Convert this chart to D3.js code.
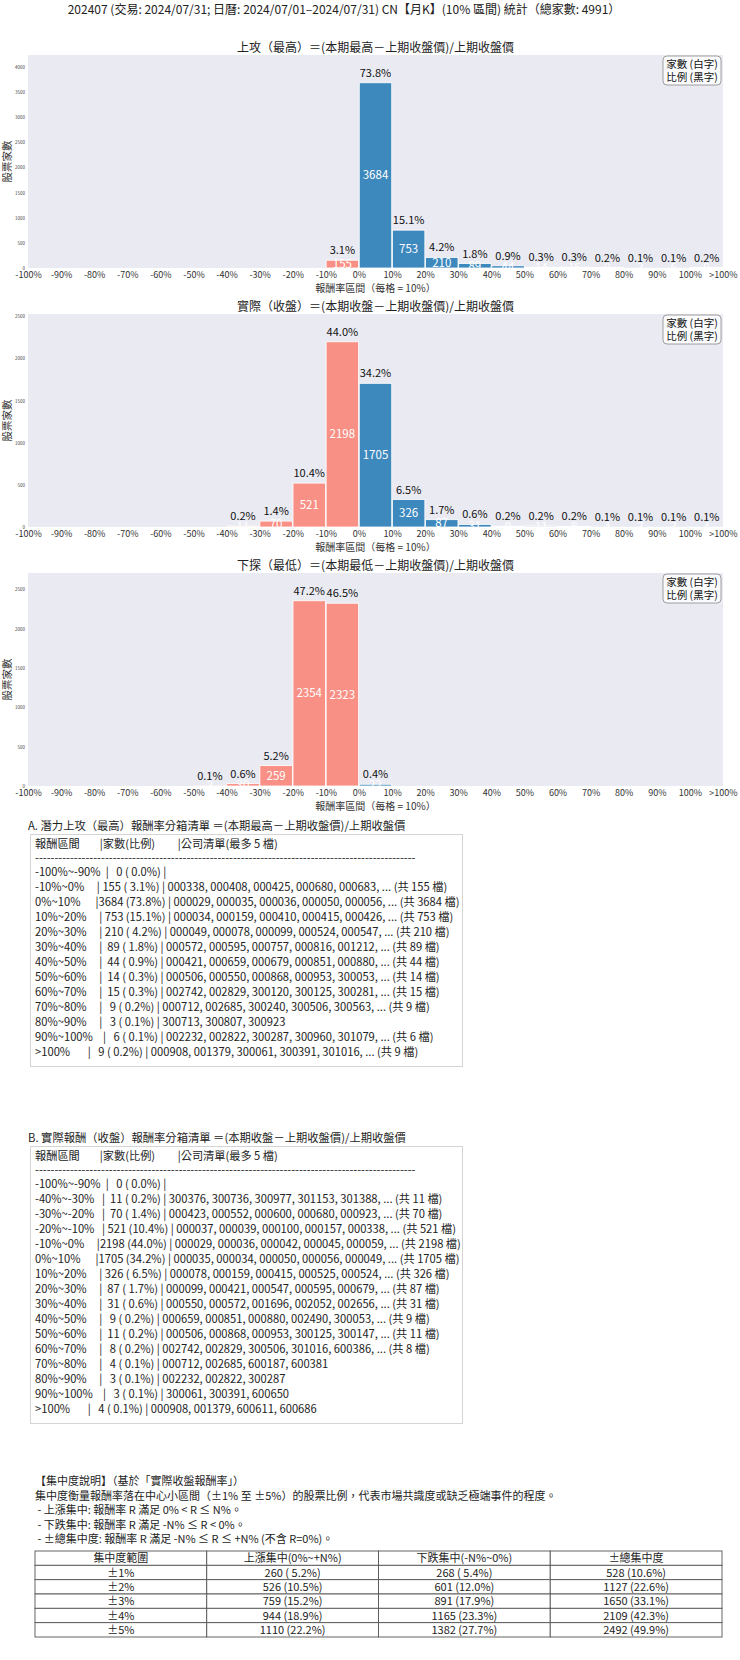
<!DOCTYPE html>
<html lang="zh-Hant">
<head>
<meta charset="UTF-8">
<title>202407 CN 月K 報酬率分箱統計</title>
<script src="https://d3js.org/d3.v7.min.js"></script>
<style>
  body { margin: 0; background: #fff; }
  svg text { font-family: "Noto Sans CJK TC", "Noto Sans", sans-serif; }
</style>
</head>
<body>
<svg id="chart" width="740" height="1660"></svg>
<script>
// ---- data ----
const total = 4991;
const tickLabels = ["-100%","-90%","-80%","-70%","-60%","-50%","-40%","-30%","-20%","-10%","0%",
  "10%","20%","30%","40%","50%","60%","70%","80%","90%","100%",">100%"];
const binLabels = ["-100%~-90%","-90%~-80%","-80%~-70%","-70%~-60%","-60%~-50%","-50%~-40%",
  "-40%~-30%","-30%~-20%","-20%~-10%","-10%~0%","0%~10%","10%~20%","20%~30%","30%~40%",
  "40%~50%","50%~60%","60%~70%","70%~80%","80%~90%","90%~100%",">100%"];

const highCounts  = [0,0,0,0,0,0,0,0,0,155,3684,753,210,89,44,14,15,9,3,6,9];
const closeCounts = [0,0,0,0,0,0,11,70,521,2198,1705,326,87,31,9,11,8,4,3,3,4];
const lowCounts   = [0,0,0,0,0,3,30,259,2354,2323,22,0,0,0,0,0,0,0,0,0,0];

// company codes, one entry per listed row (first bin + every non-empty bin)
const highCodes = [
  [],
  ["000338","000408","000425","000680","000683"],
  ["000029","000035","000036","000050","000056"],
  ["000034","000159","000410","000415","000426"],
  ["000049","000078","000099","000524","000547"],
  ["000572","000595","000757","000816","001212"],
  ["000421","000659","000679","000851","000880"],
  ["000506","000550","000868","000953","300053"],
  ["002742","002829","300120","300125","300281"],
  ["000712","002685","300240","300506","300563"],
  ["300713","300807","300923"],
  ["002232","002822","300287","300960","301079"],
  ["000908","001379","300061","300391","301016"]
];
const closeCodes = [
  [],
  ["300376","300736","300977","301153","301388"],
  ["000423","000552","000600","000680","000923"],
  ["000037","000039","000100","000157","000338"],
  ["000029","000036","000042","000045","000059"],
  ["000035","000034","000050","000056","000049"],
  ["000078","000159","000415","000525","000524"],
  ["000099","000421","000547","000595","000679"],
  ["000550","000572","001696","002052","002656"],
  ["000659","000851","000880","002490","300053"],
  ["000506","000868","000953","300125","300147"],
  ["002742","002829","300506","301016","600386"],
  ["000712","002685","600187","600381"],
  ["002232","002822","300287"],
  ["300061","300391","600650"],
  ["000908","001379","600611","600686"]
];

const concRanges = ["±1%","±2%","±3%","±4%","±5%"];
const concUp     = [260,526,759,944,1110];
const concDown   = [268,601,891,1165,1382];
const concAll    = [528,1127,1650,2109,2492];
const concHeaders = ["集中度範圍","上漲集中(0%~+N%)","下跌集中(-N%~0%)","±總集中度"];

// ---- drawing ----
const svg = d3.select("#chart");
const pct = n => (n / total * 100).toFixed(1) + "%";
const left = 28, right = 723, plotH = 213;

svg.append("text")
  .attr("x", 344).attr("y", 14)
  .attr("text-anchor", "middle")
  .attr("font-size", 12).attr("fill", "#222")
  .text("202407 (交易: 2024/07/31; 日曆: 2024/07/01–2024/07/31) CN【月K】(10% 區間) 統計（總家數: 4991）");

function drawHist(counts, title, top) {
  const g = svg.append("g");
  const xb = d3.scaleBand().domain(d3.range(counts.length)).range([left, right]).paddingInner(0.02);
  const xe = d3.scaleLinear().domain([0, counts.length]).range([left, right]);
  const ymax = d3.max(counts) * 1.15;
  const y = d3.scaleLinear().domain([0, ymax]).range([top + plotH, top]);

  g.append("rect")
    .attr("x", left).attr("y", top)
    .attr("width", right - left).attr("height", plotH)
    .attr("fill", "#eaeaf2");

  g.append("text")
    .attr("x", (left + right) / 2).attr("y", top - 3)
    .attr("text-anchor", "middle").attr("font-size", 12).attr("fill", "#222")
    .text(title);

  const bars = g.selectAll(".bar").data(counts.map((c, i) => ({c, i}))).join("g");
  bars.append("rect")
    .attr("x", d => xb(d.i))
    .attr("y", d => y(d.c))
    .attr("width", xb.bandwidth())
    .attr("height", d => y(0) - y(d.c))
    .attr("fill", d => d.i < 10 ? "#fa8072" : "#1f77b4")
    .attr("fill-opacity", 0.85)
    .attr("stroke", "#fff").attr("stroke-width", 0.8);

  bars.filter(d => d.c > 0).append("text")
    .attr("x", d => xb(d.i) + xb.bandwidth() / 2)
    .attr("y", d => y(d.c) - 6)
    .attr("text-anchor", "middle").attr("font-size", 11).attr("fill", "#111")
    .text(d => pct(d.c));

  bars.filter(d => d.c > 0).append("text")
    .attr("x", d => xb(d.i) + xb.bandwidth() / 2)
    .attr("y", d => (y(d.c) + y(0)) / 2 + 4)
    .attr("text-anchor", "middle").attr("font-size", 11.5).attr("fill", "#fff")
    .text(d => d.c);

  const xAxis = g.append("g")
    .attr("transform", `translate(0,${top + plotH})`)
    .call(d3.axisBottom(xe).tickValues(d3.range(counts.length + 1))
      .tickFormat(i => tickLabels[i]).tickSize(0).tickPadding(4));
  xAxis.select(".domain").remove();
  xAxis.selectAll("text").attr("font-size", 9).attr("fill", "#333")
    .attr("font-family", "'Noto Sans CJK TC', sans-serif");

  const yAxis = g.append("g")
    .attr("transform", `translate(${left},0)`)
    .call(d3.axisLeft(y).tickValues(d3.range(0, ymax, 500)).tickFormat(d3.format("d"))
      .tickSize(0).tickPadding(3));
  yAxis.select(".domain").remove();
  yAxis.selectAll("text").attr("font-size", 4.5).attr("fill", "#444")
    .attr("font-family", "'Noto Sans CJK TC', sans-serif");

  g.append("text")
    .attr("transform", `translate(11,${top + plotH / 2}) rotate(-90)`)
    .attr("text-anchor", "middle").attr("font-size", 10.5).attr("fill", "#333")
    .text("股票家數");

  g.append("text")
    .attr("x", (left + right) / 2).attr("y", top + plotH + 24)
    .attr("text-anchor", "middle").attr("font-size", 10).attr("fill", "#333")
    .text("報酬率區間（每格 = 10%）");

  const lg = g.append("g").attr("transform", `translate(${right - 60},${top + 1})`);
  lg.append("rect").attr("width", 58).attr("height", 29).attr("rx", 4)
    .attr("fill", "#fff").attr("fill-opacity", 0.8)
    .attr("stroke", "#888").attr("stroke-width", 0.8);
  lg.append("text").attr("x", 29).attr("y", 12).attr("text-anchor", "middle")
    .attr("font-size", 10.5).attr("fill", "#111").text("家數 (白字)");
  lg.append("text").attr("x", 29).attr("y", 25).attr("text-anchor", "middle")
    .attr("font-size", 10.5).attr("fill", "#111").text("比例 (黑字)");
}

drawHist(highCounts, "上攻（最高）＝(本期最高－上期收盤價)/上期收盤價", 55);
drawHist(closeCounts, "實際（收盤）＝(本期收盤－上期收盤價)/上期收盤價", 314);
drawHist(lowCounts, "下探（最低）＝(本期最低－上期收盤價)/上期收盤價", 573);

function rowText(i, n, codes) {
  let s = binLabels[i].padEnd(12) + "|" + String(n).padStart(4) + " (" + pct(n).padStart(5) + ") | ";
  s += codes.join(", ");
  if (n > codes.length) s += ", ... (共 " + n + " 檔)";
  return s;
}

function drawList(label, L, counts, codes) {
  const g = svg.append("g");
  const rows = d3.range(counts.length).filter(i => i === 0 || counts[i] > 0);
  const bottom = L + 50 + 15 * (rows.length - 1) + 10;
  g.append("text").attr("x", 28).attr("y", L + 4)
    .attr("font-size", 11.3).attr("fill", "#222").text(label);
  g.append("rect").attr("x", 30.5).attr("y", L + 8.5)
    .attr("width", 432).attr("height", bottom - L - 8)
    .attr("fill", "#fff").attr("stroke", "#d4d4d4").attr("stroke-width", 1);
  const lines = ["報酬區間".padEnd(12) + "|" + "家數(比例)".padEnd(15) + "|公司清單(最多 5 檔)",
                 "-".repeat(98)];
  rows.forEach((b, k) => lines.push(rowText(b, counts[b], codes[k])));
  g.selectAll(".ln").data(lines).join("text")
    .attr("x", 35)
    .attr("y", (d, k) => k === 0 ? L + 22 : k === 1 ? L + 36 : L + 50 + 15 * (k - 2))
    .attr("font-size", 11.2).attr("fill", "#222")
    .style("white-space", "pre")
    .text(d => d);
}

drawList("A. 潛力上攻（最高）報酬率分箱清單 ＝(本期最高－上期收盤價)/上期收盤價", 826, highCounts, highCodes);
drawList("B. 實際報酬（收盤）報酬率分箱清單 ＝(本期收盤－上期收盤價)/上期收盤價", 1138, closeCounts, closeCodes);

const notes = [
  "【集中度說明】（基於「實際收盤報酬率」）",
  "集中度衡量報酬率落在中心小區間（±1% 至 ±5%）的股票比例，代表市場共識度或缺乏極端事件的程度。",
  " - 上漲集中: 報酬率 R 滿足 0% < R ≤ N%。",
  " - 下跌集中: 報酬率 R 滿足 -N% ≤ R < 0%。",
  " - ±總集中度: 報酬率 R 滿足 -N% ≤ R ≤ +N% (不含 R=0%)。"
];
svg.selectAll(".note").data(notes).join("text")
  .attr("x", 35).attr("y", (d, i) => 1485 + i * 14.5)
  .attr("font-size", 11).attr("fill", "#222")
  .style("white-space", "pre")
  .text(d => d);

const fmt = n => n + " (" + pct(n).padStart(5) + ")";
const tableRows = [concHeaders].concat(concRanges.map((r, i) =>
  [r, fmt(concUp[i]), fmt(concDown[i]), fmt(concAll[i])]));
const tx = d3.scaleLinear().domain([0, 4]).range([35, 722]);
const ty = d3.scaleLinear().domain([0, 6]).range([1551, 1637]);
const tg = svg.append("g");
tableRows.forEach((row, r) => {
  row.forEach((cell, c) => {
    tg.append("rect")
      .attr("x", tx(c)).attr("y", ty(r))
      .attr("width", tx(c + 1) - tx(c)).attr("height", ty(r + 1) - ty(r))
      .attr("fill", "#fff").attr("stroke", "#555").attr("stroke-width", 0.9);
    tg.append("text")
      .attr("x", (tx(c) + tx(c + 1)) / 2).attr("y", (ty(r) + ty(r + 1)) / 2 + 4)
      .attr("text-anchor", "middle").attr("font-size", 11).attr("fill", "#222")
      .style("white-space", "pre")
      .text(cell);
  });
});
</script>
</body>
</html>
